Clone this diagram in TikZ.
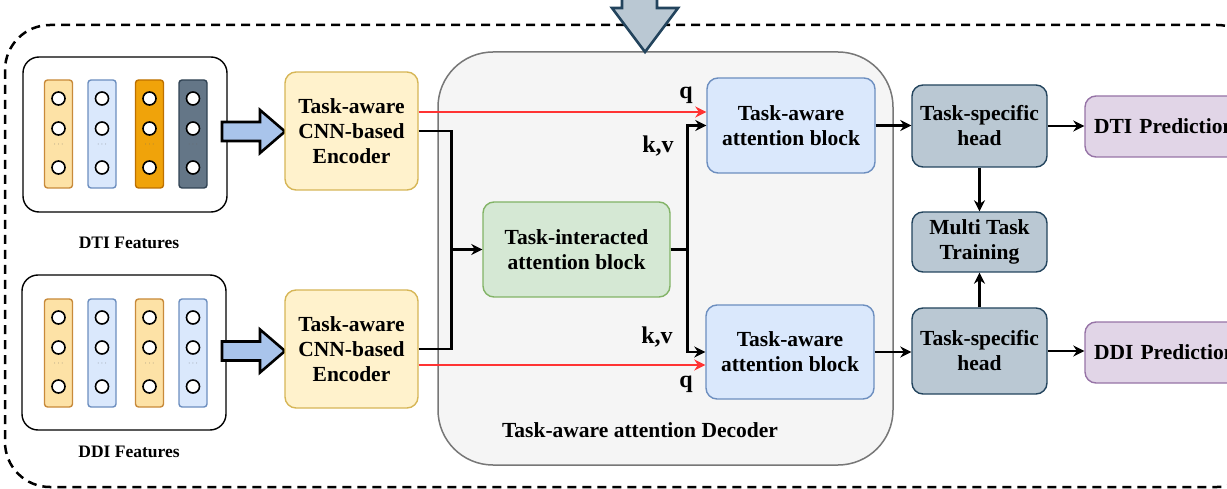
\documentclass[tikz,border=0pt]{standalone}
\usepackage{fontspec}
\setmainfont{Liberation Serif}
\usetikzlibrary{arrows.meta,calc}
\definecolor{encfill}{HTML}{FFF2CC}\definecolor{encdraw}{HTML}{D6B656}
\definecolor{bluefill}{HTML}{DAE8FC}\definecolor{bluedraw}{HTML}{6C8EBF}
\definecolor{greenfill}{HTML}{D5E8D4}\definecolor{greendraw}{HTML}{82B366}
\definecolor{slatefill}{HTML}{BAC8D3}\definecolor{slatedraw}{HTML}{23445D}
\definecolor{purpfill}{HTML}{E1D5E7}\definecolor{purpdraw}{HTML}{9673A6}
\definecolor{decfill}{HTML}{F5F5F5}\definecolor{decdraw}{HTML}{777777}
\definecolor{col1fill}{HTML}{FDE2A6}\definecolor{col1draw}{HTML}{C88A3A}
\definecolor{col3fill}{HTML}{F0A30A}\definecolor{col3draw}{HTML}{BD7000}
\definecolor{col4fill}{HTML}{647687}\definecolor{col4draw}{HTML}{314354}
\definecolor{barrow}{HTML}{A9C4EB}
\definecolor{qred}{HTML}{FF3333}
\tikzset{
  txt/.style={font=\bfseries\fontsize{21.5}{25}\selectfont, align=center},
  blk/.style={txt, draw, rounded corners=11pt, line width=1.4pt},
  col/.style={draw, rounded corners=3pt, line width=1.4pt, minimum width=28pt, minimum height=108pt},
  dot/.style={circle, draw, fill=white, line width=1.6pt, minimum size=13pt, inner sep=0pt},
  arr/.style={line width=2.5pt, -{Stealth[length=11pt,width=11pt]}},
  qarr/.style={line width=2.6pt, qred, -{Stealth[length=11pt,width=11pt]}},
  lbl/.style={font=\bfseries\fontsize{24}{28}\selectfont},
  flbl/.style={font=\bfseries\fontsize{17.5}{20}\selectfont},
  barr/.style={fill=barrow, draw=black, line width=2.6pt, line join=miter},
  pred/.style={blk, fill=purpfill, draw=purpdraw, align=left, text width=160pt, inner xsep=9pt, minimum height=61pt},
}
\begin{document}
\begin{tikzpicture}[x=1pt,y=-1pt]
\useasboundingbox (0,0) rectangle (1227,489);
\clip (0,0) rectangle (1227,489);
% outer dashed frame
\draw[line width=2.5pt, dash pattern=on 9pt off 6pt, rounded corners=45pt] (5,25) rectangle (1262,487);

% feature boxes
\node[draw, rounded corners=16pt, line width=1.4pt, minimum width=204pt, minimum height=155pt] (dtibox) at (125,134.5) {};
\node[draw, rounded corners=16pt, line width=1.4pt, minimum width=204pt, minimum height=155pt] (ddibox) at (124,352.5) {};
\foreach \x/\f/\d [count=\i] in {58.5/col1fill/col1draw, 102/bluefill/bluedraw, 149.5/col3fill/col3draw, 193/col4fill/col4draw}{
  \node[col, fill=\f, draw=\d] (ct\i) at (\x,134) {};
  \foreach \o [count=\j] in {18.5,48.5,87.5}{ \node[dot] (ct\i d\j) at (\x,80+\o) {}; }
  \node[font=\fontsize{8}{8}\selectfont, text=black!60] (ct\i e) at (\x,145) {$\cdots$};
}
\foreach \x/\f/\d [count=\i] in {58.5/col1fill/col1draw, 102/bluefill/bluedraw, 149.5/col1fill/col1draw, 193/bluefill/bluedraw}{
  \node[col, fill=\f, draw=\d] (cb\i) at (\x,353) {};
  \foreach \o [count=\j] in {18.5,48.5,87.5}{ \node[dot] (cb\i d\j) at (\x,299+\o) {}; }
  \node[font=\fontsize{8}{8}\selectfont, text=black!60] (cb\i e) at (\x,364) {$\cdots$};
}
\node[flbl] (dtilbl) at (129,243) {DTI Features};
\node[flbl] (ddilbl) at (129,452) {DDI Features};

% block arrows
\draw[barr] (222,122) -- (260,122) -- (260,110) -- (285,131.5) -- (260,153) -- (260,141) -- (222,141) -- cycle;
\draw[barr] (222,341.5) -- (260,341.5) -- (260,329.5) -- (285,351) -- (260,372.5) -- (260,360.5) -- (222,360.5) -- cycle;

% encoders
\node[blk, fill=encfill, draw=encdraw, minimum width=133pt, minimum height=118pt] (encT) at (351.5,131) {Task-aware\\CNN-based\\Encoder};
\node[blk, fill=encfill, draw=encdraw, minimum width=133pt, minimum height=118pt] (encB) at (351.5,349) {Task-aware\\CNN-based\\Encoder};

% decoder container
\node[draw=decdraw, fill=decfill, rounded corners=55pt, line width=1.5pt, minimum width=455pt, minimum height=413pt] (dec) at (665.5,258.5) {};
\node[txt] (declbl) at (640,430) {Task-aware attention Decoder};

% top down arrow
\draw[fill=slatefill, draw=slatedraw, line width=2.6pt, line join=miter] (622,-5) -- (657,-5) -- (657,8) -- (678,8) -- (645,52) -- (612,8) -- (622,8) -- cycle;

% inner blocks
\node[blk, fill=bluefill, draw=bluedraw, minimum width=168pt, minimum height=95pt] (attT) at (791,125.5) {Task-aware\\attention block};
\node[blk, fill=bluefill, draw=bluedraw, minimum width=168pt, minimum height=94pt] (attB) at (790,352) {Task-aware\\attention block};
\node[blk, fill=greenfill, draw=greendraw, minimum width=187pt, minimum height=95pt] (inter) at (576.5,249.5) {Task-interacted\\attention block};

% heads
\node[blk, fill=slatefill, draw=slatedraw, minimum width=135pt, minimum height=82pt] (headT) at (979.5,126) {Task-specific\\head};
\node[blk, fill=slatefill, draw=slatedraw, minimum width=135pt, minimum height=60pt] (mtt) at (979.5,242) {Multi Task\\Training};
\node[blk, fill=slatefill, draw=slatedraw, minimum width=135pt, minimum height=86pt] (headB) at (979.5,351) {Task-specific\\head};
\node[pred] (dtiP) at (1174,126.5) {DTI Prediction};
\node[pred] (ddiP) at (1174,352.5) {DDI Prediction};

% connectors
\coordinate (qT) at ([yshift=19pt]encT.east);
\coordinate (qB) at ([yshift=-16pt]encB.east);
\draw[qarr] (qT) -- (qT -| attT.west);
\draw[qarr] (qB) -- (qB -| attB.west);
\draw[arr] (encT.east) -- ++(33,0) |- (inter.west);
\draw[line width=2.5pt] (encB.east) -- ++(33,0) |- ([xshift=-10pt]inter.west);
\draw[arr] (inter.east) -- ++(17,0) |- (attT.west);
\draw[arr] (inter.east) -- ++(17,0) |- (attB.west);
\draw[arr] (attT.east) -- (attT.east -| headT.west);
\draw[arr] (attB.east) -- (attB.east -| headB.west);
\draw[arr] (headT.south) -- (mtt.north);
\draw[arr] (headB.north) -- (mtt.south);
\draw[arr] (headT.east) -- (headT.east -| dtiP.west);
\draw[arr] (headB.east) -- (headB.east -| ddiP.west);

% labels
\node[lbl] (q1) at (686,95) {q};
\node[lbl] (kv1) at (658,146) {k,v};
\node[lbl] (kv2) at (657,337) {k,v};
\node[lbl] (q2) at (686,384) {q};
\end{tikzpicture}
\end{document}
